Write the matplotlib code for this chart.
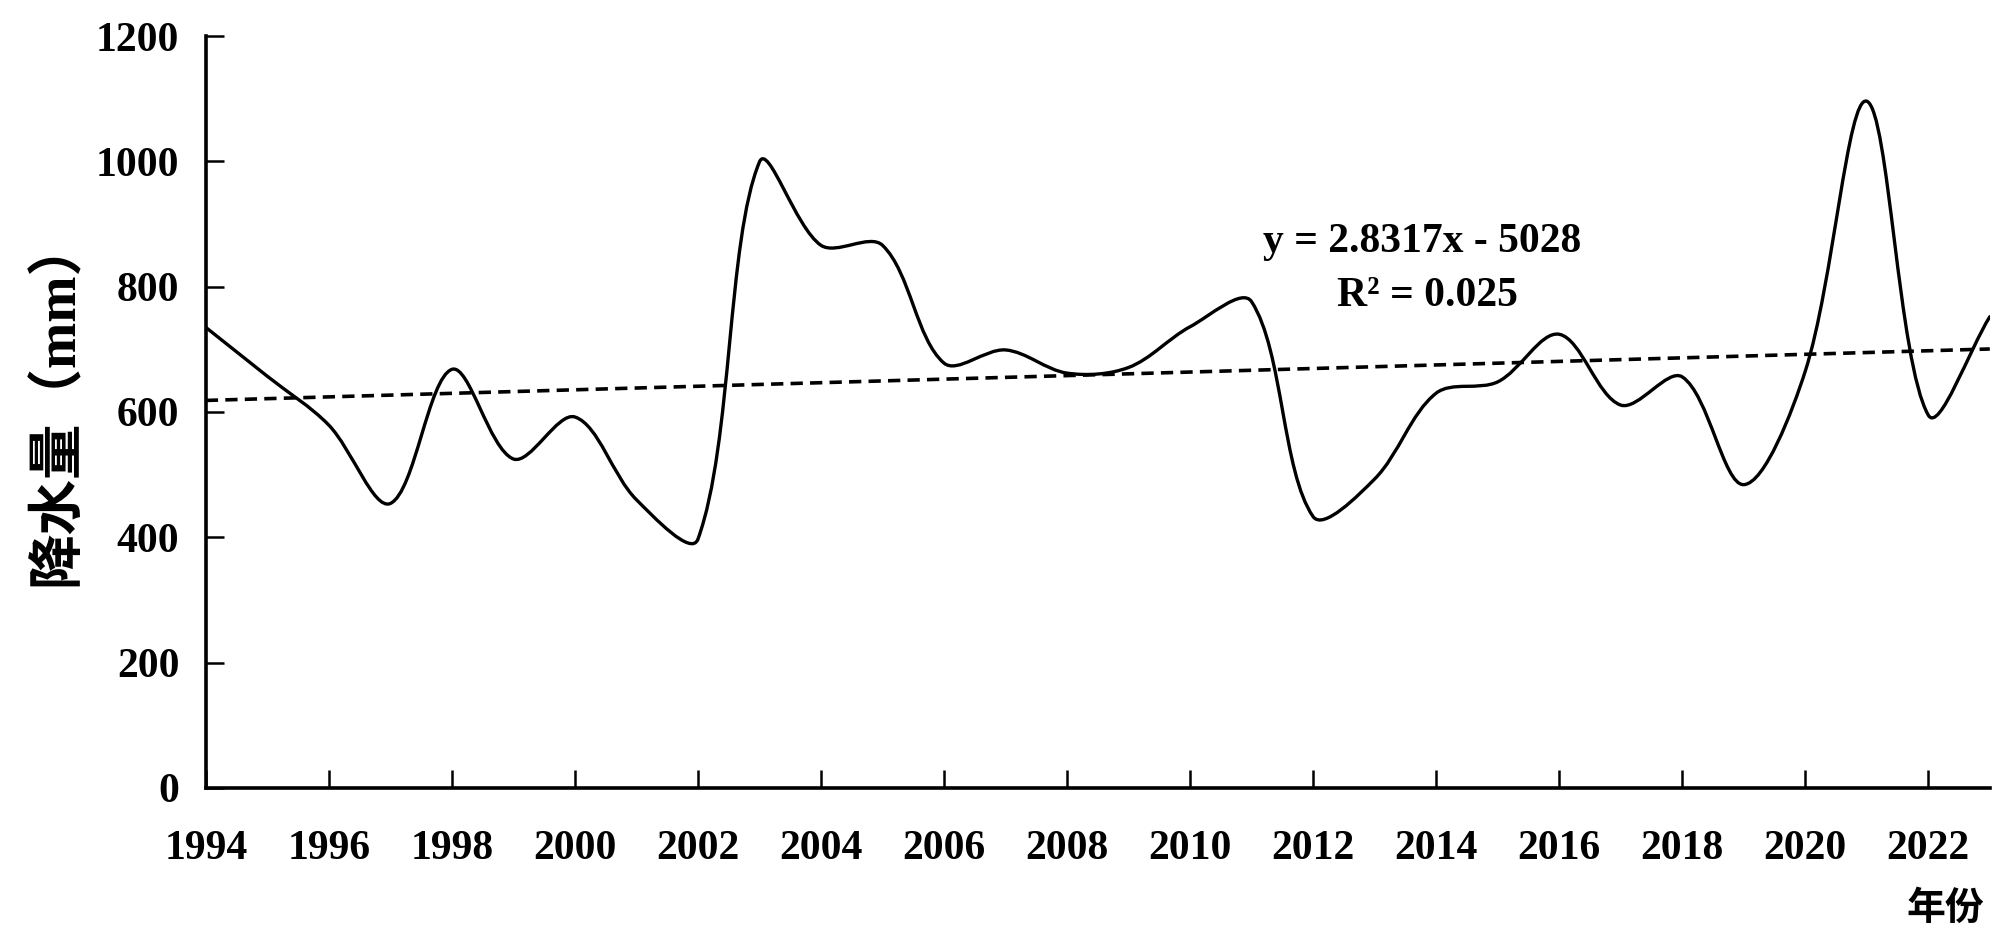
import matplotlib
matplotlib.use("Agg")
import matplotlib.pyplot as plt
from matplotlib.path import Path
from matplotlib.patches import PathPatch

plt.rcParams['font.family'] = ['Liberation Serif', 'Noto Sans CJK SC', 'DejaVu Sans']
plt.rcParams['font.weight'] = 'bold'

# annual precipitation (mm)
years = list(range(1994, 2024))
precip = [735, 657, 579, 454, 668, 525, 592, 460, 397, 999,
          866, 866, 678, 699, 662, 671, 736, 776, 433, 493,
          630, 648, 724, 611, 656, 484, 665, 1096, 595, 752]

# linear trend shown on the chart
slope = 2.8317
intercept = -5028

x_ticks = list(range(1994, 2024, 2))
y_ticks = [0, 200, 400, 600, 800, 1000, 1200]

fig = plt.figure(figsize=(20, 9.38), dpi=100)
ax = fig.add_axes([0.1029, 0.160, 0.892, 0.8016])
ax.set_xlim(1994, 2023)
ax.set_ylim(0, 1200)

# smoothed line like excel: bezier segments, handles scaled by
# neighbouring segment lengths measured on screen
def scr(i):
    return ax.transData.transform((years[i], precip[i]))

n = len(years)
pts = [scr(i) for i in range(n)]
seg = [((pts[i + 1][0] - pts[i][0]) ** 2 + (pts[i + 1][1] - pts[i][1]) ** 2) ** 0.5
       for i in range(n - 1)]
k = 1 / 3.0

def handle(i, side):
    a = pts[max(i - 1, 0)]
    b = pts[min(i + 1, n - 1)]
    tx, ty = b[0] - a[0], b[1] - a[1]
    dl = seg[i - 1] if i > 0 else 0
    dr = seg[i] if i < n - 1 else 0
    d = dr if side > 0 else dl
    f = k * d / (dl + dr)
    p = (pts[i][0] + side * tx * f, pts[i][1] + side * ty * f)
    return ax.transData.inverted().transform(p)

verts = [(years[0], precip[0])]
codes = [Path.MOVETO]
for i in range(n - 1):
    verts += [tuple(handle(i, 1)), tuple(handle(i + 1, -1)), (years[i + 1], precip[i + 1])]
    codes += [Path.CURVE4] * 3
ax.add_patch(PathPatch(Path(verts, codes), facecolor='none', edgecolor='black',
                       lw=2.4, capstyle='round', joinstyle='round'))

tx = [years[0], years[-1]]
ty = [slope * x + intercept for x in tx]
ax.plot(tx, ty, color='black', lw=2.6, dashes=(3.4, 2.0))

ax.set_xticks(x_ticks)
ax.set_yticks(y_ticks)
for s in ['top', 'right']:
    ax.spines[s].set_visible(False)
for s in ['left', 'bottom']:
    ax.spines[s].set_linewidth(2.6)
ax.tick_params(axis='both', direction='in', length=13, width=1.8, labelsize=30)
ax.tick_params(axis='y', pad=19)
ax.tick_params(axis='x', pad=30)

fig.text(0.029, 0.572, '降水量（mm）', rotation=90, ha='center', va='center',
         fontsize=40, fontweight='bold')
fig.text(0.992, 0.03, '年份', ha='right', va='center', fontsize=28)

ax.text(0.6817, 0.726, 'y = 2.8317x - 5028', transform=ax.transAxes,
        ha='center', va='center', fontsize=30)
ax.text(0.685, 0.654, 'R² = 0.025', transform=ax.transAxes,
        ha='center', va='center', fontsize=30)

fig.savefig('out.png', dpi=100)
